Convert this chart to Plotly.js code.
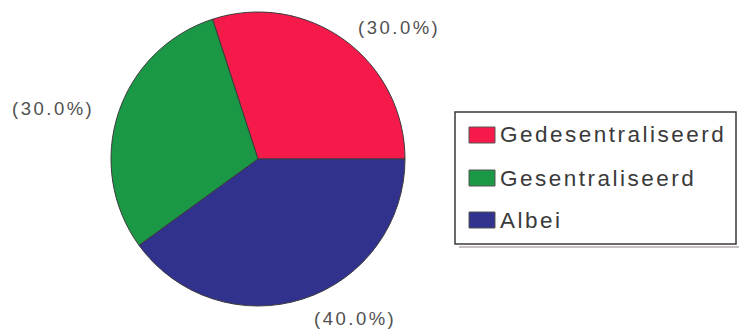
<!DOCTYPE html>
<html>
<head>
<meta charset="utf-8">
<script src="https://cdn.plot.ly/plotly-3.0.1.min.js"></script>
<style>
  html, body { margin: 0; padding: 0; background: #ffffff; }
  #chart { width: 739px; height: 332px; }
  .annotation-text { letter-spacing: 2.5px; }
</style>
</head>
<body>
<div id="chart"></div>
<script>
// Survey answer categories and their shares
const categories = ['Gedesentraliseerd', 'Gesentraliseerd', 'Albei'];
const shares = [30, 30, 40];
const sliceColors = ['#F61A4B', '#1B9845', '#31318E'];

// figure size and pixel -> paper helpers
const W = 739, H = 332;
const px = x => x / W;
const py = y => 1 - y / H;

const total = shares.reduce((a, b) => a + b, 0);
const pctText = shares.map(v => '(' + (v / total * 100).toFixed(1) + '%)');

// counterclockwise pies use `rotation` as the far edge of the first slice;
// the first slice should begin at 3 o'clock
const firstSliceDeg = 360 * shares[0] / total;
const pieRotation = 90 - firstSliceDeg;

// where each percentage label sits (pixels)
const labelSpots = [[399, 28], [53, 108], [355, 318]];

// hand-drawn legend box geometry (pixels)
const legendBox = { x0: 455, x1: 736, y0: 112, y1: 244 };
const legendRows = [135, 178, 220];

const annotations = [];
const shapes = [];

pctText.forEach((t, i) => {
  annotations.push({
    text: t,
    xref: 'paper', yref: 'paper',
    x: px(labelSpots[i][0]), y: py(labelSpots[i][1]),
    xanchor: 'center', yanchor: 'middle',
    showarrow: false,
    font: { family: 'Arial, "Liberation Sans", sans-serif', size: 18.5, color: '#505050' }
  });
});

// legend frame with a faint drop line under it
shapes.push({
  type: 'line', xref: 'paper', yref: 'paper',
  x0: px(legendBox.x0 + 4), x1: px(739), y0: py(legendBox.y1 + 3), y1: py(legendBox.y1 + 3),
  line: { color: '#c8c0c0', width: 2 }
});
shapes.push({
  type: 'rect', xref: 'paper', yref: 'paper',
  x0: px(legendBox.x0), x1: px(legendBox.x1), y0: py(legendBox.y1), y1: py(legendBox.y0),
  line: { color: '#3a3a3a', width: 1.5 }, fillcolor: 'rgba(0,0,0,0)'
});

categories.forEach((name, i) => {
  const cy = legendRows[i];
  shapes.push({
    type: 'rect', xref: 'paper', yref: 'paper',
    x0: px(469), x1: px(495), y0: py(cy + 8), y1: py(cy - 8),
    line: { color: '#555555', width: 1 }, fillcolor: sliceColors[i]
  });
  annotations.push({
    text: name,
    xref: 'paper', yref: 'paper',
    x: px(498), y: py(cy),
    xanchor: 'left', yanchor: 'middle',
    showarrow: false,
    font: { family: 'Arial, "Liberation Sans", sans-serif', size: 22.5, color: '#3a3a3a' }
  });
});

const trace = {
  type: 'pie',
  labels: categories,
  values: shares,
  sort: false,
  direction: 'counterclockwise',
  rotation: pieRotation,
  textinfo: 'none',
  hoverinfo: 'label+percent',
  marker: { colors: sliceColors, line: { color: '#3c3c3c', width: 1 } },
  domain: { x: [px(111), px(405)], y: [py(306), py(12)] },
  showlegend: false
};

const layout = {
  width: W, height: H,
  margin: { l: 0, r: 0, t: 0, b: 0 },
  paper_bgcolor: '#ffffff',
  plot_bgcolor: '#ffffff',
  showlegend: false,
  annotations: annotations,
  shapes: shapes
};

Plotly.newPlot('chart', [trace], layout, { displayModeBar: false, staticPlot: true });
</script>
</body>
</html>
